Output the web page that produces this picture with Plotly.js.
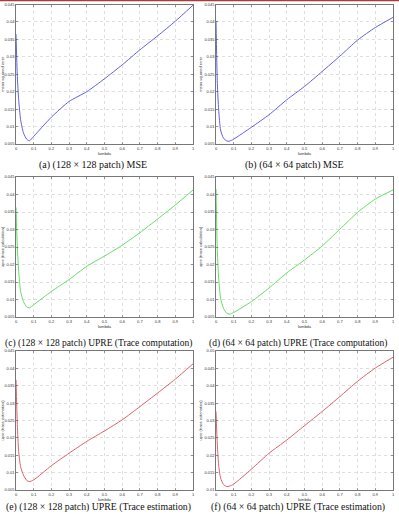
<!DOCTYPE html>
<html>
<head>
<meta charset="utf-8">
<script src="https://cdn.plot.ly/plotly-3.0.1.min.js"></script>
<style>html,body{margin:0;padding:0;background:#fff;}#chart{width:399px;height:514px;}</style>
</head>
<body>
<div id="chart"></div>
<script>
// lambda sample points (shared)
const lambda = [0, 0.0075, 0.015, 0.026, 0.042, 0.06, 0.075, 0.1, 0.2, 0.3, 0.4, 0.5, 0.6, 0.7, 0.8, 0.9, 1.0];

// (a) 128x128 MSE
const mse128 = [0.0365, 0.0243, 0.0177, 0.0120, 0.0082, 0.0064, 0.0059, 0.0072, 0.0127, 0.0172, 0.0200, 0.0237, 0.0277, 0.0320, 0.0360, 0.0402, 0.0448];
// (b) 64x64 MSE
const mse64 = [0.0403, 0.0224, 0.0148, 0.0090, 0.0067, 0.0059, 0.0058, 0.0064, 0.0098, 0.0134, 0.0177, 0.0215, 0.0258, 0.0302, 0.0348, 0.0384, 0.0413];
// (c) 128x128 UPRE trace computation
const upreComp128 = [0.0363, 0.0248, 0.0181, 0.0123, 0.0094, 0.0079, 0.0076, 0.0085, 0.0123, 0.0157, 0.0195, 0.0224, 0.0255, 0.0291, 0.0330, 0.0370, 0.0413];
// (d) 64x64 UPRE trace computation
const upreComp64 = [0.0416, 0.0238, 0.0161, 0.0104, 0.0075, 0.0061, 0.0058, 0.0063, 0.0094, 0.0133, 0.0176, 0.0213, 0.0253, 0.0301, 0.0349, 0.0387, 0.0413];
// (e) 128x128 UPRE trace estimation
const upreEst128 = [0.0367, 0.0238, 0.0161, 0.0117, 0.0093, 0.0078, 0.0074, 0.0079, 0.0120, 0.0156, 0.0190, 0.0220, 0.0252, 0.0290, 0.0329, 0.0369, 0.0413];
// (f) 64x64 UPRE trace estimation
const upreEst64 = [0.0326, 0.0230, 0.0172, 0.0134, 0.0116, 0.0110, 0.0111, 0.0117, 0.0160, 0.0206, 0.0244, 0.0285, 0.0326, 0.0369, 0.0413, 0.0451, 0.0482];

const xTickVals = [0, 0.1, 0.2, 0.3, 0.4, 0.5, 0.6, 0.7, 0.8, 0.9, 1];
const xTickText = ["0", "0.1", "0.2", "0.3", "0.4", "0.5", "0.6", "0.7", "0.8", "0.9", "1"];
const yTickValsA = [0.005, 0.01, 0.015, 0.02, 0.025, 0.03, 0.035, 0.04, 0.045];
const yTickTextA = ["0.005", "0.01", "0.015", "0.02", "0.025", "0.03", "0.035", "0.04", "0.045"];
const yTickValsB = [0.01, 0.015, 0.02, 0.025, 0.03, 0.035, 0.04, 0.045, 0.05];
const yTickTextB = ["0.01", "0.015", "0.02", "0.025", "0.03", "0.035", "0.04", "0.045", "0.05"];

const captions = [
  "(a) (128 \u00d7 128 patch) MSE",
  "(b) (64 \u00d7 64 patch) MSE",
  "(c) (128 \u00d7 128 patch) UPRE (Trace computation)",
  "(d) (64 \u00d7 64 patch) UPRE (Trace computation)",
  "(e) (128 \u00d7 128 patch) UPRE (Trace estimation)",
  "(f) (64 \u00d7 64 patch) UPRE (Trace estimation)"
];
const yTitles = ["mean squared error", "mean squared error", "upre (trace calculation)", "upre (trace calculation)", "upre (trace estimation)", "upre (trace estimation)"];

const W = 399, H = 514;
const series = [mse128, mse64, upreComp128, upreComp64, upreEst128, upreEst64];
const colors = ["rgb(95,95,225)", "rgb(95,95,225)", "rgb(95,225,95)", "rgb(95,225,95)", "rgb(225,95,105)", "rgb(225,95,105)"];
// pixel boxes [left, right, top, bottom]
const cols = [[16, 193], [216, 393]];
const rows = [[4.5, 144], [177, 317], [351, 490]];
const capY = [165, 343, 507];
const capX = [[93, 294], [98, 298], [98, 298]];
const capSize = [10, 9.5, 9.8];
const yRanges = [[0.005,0.045],[0.005,0.045],[0.005,0.045],[0.005,0.045],[0.005,0.045],[0.01,0.05]];

const traces = [];
const layout = {
  width: W, height: H,
  margin: {l: 0, r: 0, t: 0, b: 0},
  paper_bgcolor: "#fff", plot_bgcolor: "#fff",
  showlegend: false,
  font: {family: "Liberation Sans", size: 4, color: "#333"},
  annotations: [],
  shapes: [{type: "line", xref: "paper", yref: "paper", x0: 0, x1: 1, y0: 1 - 0.5/H, y1: 1 - 0.5/H, line: {color: "rgb(170,60,60)", width: 1.5}}]
};

for (let i = 0; i < 6; i++) {
  const c = cols[i % 2], r = rows[Math.floor(i / 2)];
  const sfx = i === 0 ? "" : String(i + 1);
  traces.push({
    x: lambda, y: series[i], type: "scatter", mode: "lines",
    line: {color: colors[i], width: 1, shape: "spline", smoothing: 0.6},
    xaxis: "x" + sfx, yaxis: "y" + sfx, hoverinfo: "skip"
  });
  const b = i === 5;
  layout["xaxis" + sfx] = {
    domain: [c[0] / W, c[1] / W], anchor: "y" + sfx,
    range: [0, 1], tickvals: xTickVals, ticktext: xTickText,
    ticks: "inside", ticklen: 2, tickcolor: "#444", tickwidth: 0.5,
    showgrid: true, gridcolor: "#c8c8c8", griddash: "dot", gridwidth: 0.6,
    showline: true, linecolor: "#555", linewidth: 0.8, mirror: "ticks",
    zeroline: false, tickfont: {size: 4, color: "#333"},
    title: {text: "lambda", font: {size: 4, color: "#333"}, standoff: 1}
  };
  layout["yaxis" + sfx] = {
    domain: [1 - r[1] / H, 1 - r[0] / H], anchor: "x" + sfx,
    range: yRanges[i], tickvals: b ? yTickValsB : yTickValsA, ticktext: b ? yTickTextB : yTickTextA,
    ticks: "inside", ticklen: 2, tickcolor: "#444", tickwidth: 0.5,
    showgrid: true, gridcolor: "#c8c8c8", griddash: "dot", gridwidth: 0.6,
    showline: true, linecolor: "#555", linewidth: 0.8, mirror: "ticks",
    zeroline: false, tickfont: {size: 4, color: "#333"},
    title: {text: yTitles[i], font: {size: 4, color: "#333"}, standoff: 1}
  };
  const rIdx = Math.floor(i / 2);
  layout.annotations.push({
    text: captions[i], xref: "paper", yref: "paper",
    x: capX[rIdx][i % 2] / W, y: 1 - capY[rIdx] / H,
    xanchor: "center", yanchor: "middle", showarrow: false,
    font: {family: "Liberation Serif", size: capSize[rIdx], color: "#111"}
  });
}

Plotly.newPlot("chart", traces, layout, {displayModeBar: false, staticPlot: true});
</script>
</body>
</html>
